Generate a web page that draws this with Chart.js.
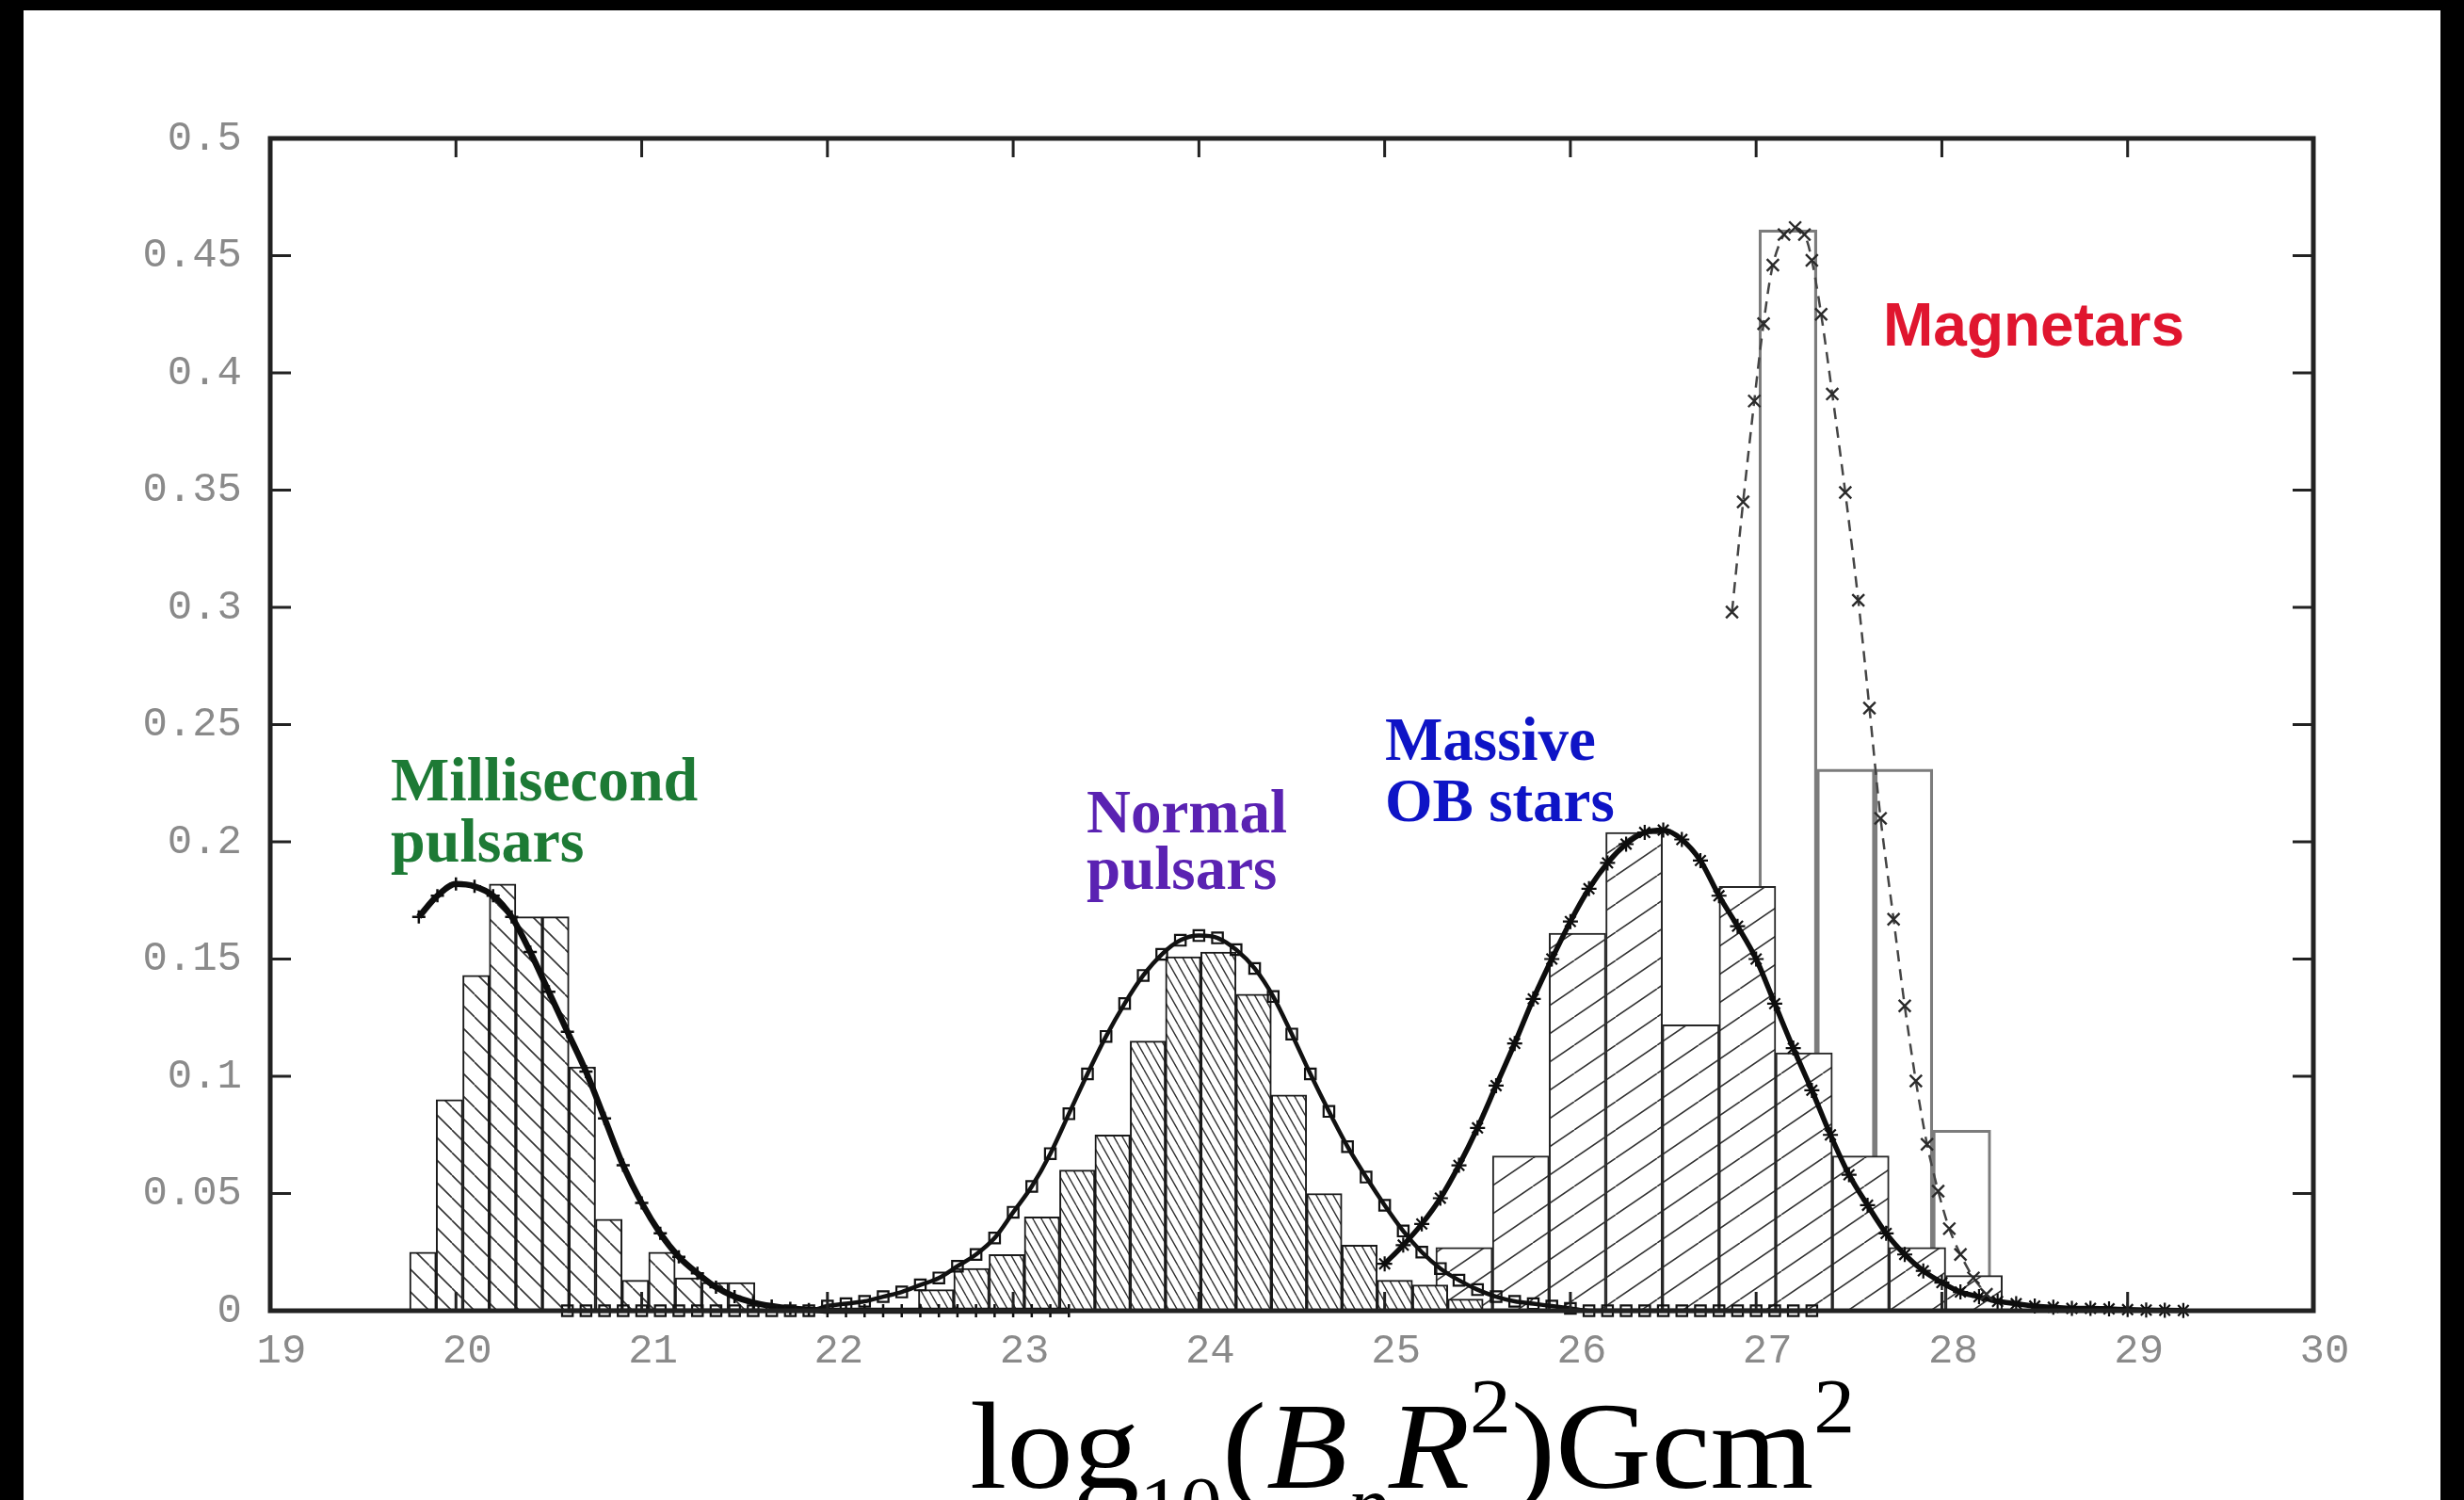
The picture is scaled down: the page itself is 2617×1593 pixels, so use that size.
<!DOCTYPE html>
<html>
<head>
<meta charset="utf-8">
<script src="https://cdn.jsdelivr.net/npm/chart.js@4.4.1/dist/chart.umd.min.js"></script>
<style>
html,body{margin:0;padding:0;background:#000;overflow:hidden}
canvas{display:block}
</style>
</head>
<body>
<canvas id="c" width="2617" height="1593" style="width:2617px;height:1593px"></canvas>
<script>
// ---------- tick labels ----------
const xTickLabels = ['19','20','21','22','23','24','25','26','27','28','29','30'];
const yTickLabels = ['0','0.05','0.1','0.15','0.2','0.25','0.3','0.35','0.4','0.45','0.5'];

// ---------- histograms (bin centres / heights) ----------
const mspBinCenters = [19.822,19.965,20.108,20.251,20.394,20.537,20.680,20.823,20.966,21.109,21.252,21.395,21.538];
const mspBinHeights = [0.025,0.090,0.143,0.182,0.168,0.168,0.104,0.039,0.013,0.025,0.014,0.012,0.012];

const normBinCenters = [22.585,22.775,22.965,23.155,23.345,23.535,23.725,23.915,24.105,24.295,24.485,24.675,24.865,25.055,25.245,25.435];
const normBinHeights = [0.009,0.018,0.024,0.040,0.060,0.075,0.115,0.151,0.153,0.135,0.092,0.050,0.028,0.013,0.011,0.005];

const obBinCenters = [25.428,25.733,26.038,26.343,26.648,26.953,27.258,27.563,27.868,28.173];
const obBinHeights = [0.027,0.066,0.161,0.204,0.122,0.181,0.110,0.066,0.027,0.015];

const magBinCenters = [27.171,27.483,27.795,28.107];
const magBinHeights = [0.461,0.231,0.231,0.077];

// ---------- fitted curves ----------
const mspCurveX = [19.8,19.9,20.0,20.1,20.2,20.3,20.4,20.5,20.6,20.7,20.8,20.9,21.0,21.1,21.2,21.3,21.4,21.5,21.6,21.7,21.8,21.9,
                   22.0,22.1,22.2,22.3,22.4,22.5,22.6,22.7,22.8,22.9,23.0,23.1,23.2,23.3];
const mspCurveY = [0.168,0.177,0.182,0.181,0.177,0.168,0.153,0.136,0.119,0.102,0.082,0.062,0.046,0.033,0.023,0.016,0.010,0.006,0.0035,0.002,0.001,0.0005,
                   0,0,0,0,0,0,0,0,0,0,0,0,0,0];

const normCurveX = [20.6,20.7,20.8,20.9,21.0,21.1,21.2,21.3,21.4,21.5,21.6,21.7,21.8,21.9,
                    22.0,22.1,22.2,22.3,22.4,22.5,22.6,22.7,22.8,22.9,23.0,23.1,23.2,23.3,23.4,23.5,23.6,23.7,23.8,23.9,
                    24.0,24.1,24.2,24.3,24.4,24.5,24.6,24.7,24.8,24.9,25.0,25.1,25.2,25.3,25.4,25.5,25.6,25.7,25.8,25.9,26.0,
                    26.1,26.2,26.3,26.4,26.5,26.6,26.7,26.8,26.9,27.0,27.1,27.2,27.3];
const normCurveY = [0,0,0,0,0,0,0,0,0,0,0,0,0,0,
                    0.002,0.003,0.004,0.006,0.008,0.011,0.014,0.019,0.024,0.031,0.042,0.053,0.067,0.084,0.101,0.117,0.131,0.143,0.152,0.158,
                    0.160,0.159,0.154,0.146,0.134,0.118,0.101,0.085,0.070,0.057,0.045,0.034,0.025,0.018,0.013,0.009,0.006,0.004,0.003,0.002,0.001,
                    0,0,0,0,0,0,0,0,0,0,0,0,0];

const obCurveX = [25.0,25.1,25.2,25.3,25.4,25.5,25.6,25.7,25.8,25.9,26.0,26.1,26.2,26.3,26.4,26.5,26.6,26.7,26.8,26.9,
                  27.0,27.1,27.2,27.3,27.4,27.5,27.6,27.7,27.8,27.9,28.0,28.1,28.2,28.3,28.4,28.5,28.6,28.7,28.8,28.9,29.0,29.1,29.2,29.3];
const obCurveY = [0.020,0.028,0.037,0.048,0.062,0.078,0.096,0.114,0.133,0.150,0.166,0.180,0.191,0.199,0.204,0.205,0.201,0.192,0.177,0.164,
                  0.150,0.131,0.112,0.094,0.075,0.058,0.045,0.033,0.024,0.017,0.012,0.008,0.006,0.004,0.003,0.002,0.0015,0.001,0.001,0.0008,0.0005,0.0003,0.0002,0.0001];

const magCurveX = [26.87,26.93,26.99,27.04,27.09,27.15,27.21,27.26,27.30,27.35,27.41,27.48,27.55,27.61,27.67,27.74,27.80,27.86,27.92,27.98,28.04,28.10,28.17,28.24];
const magCurveY = [0.298,0.345,0.388,0.421,0.446,0.459,0.462,0.459,0.448,0.425,0.391,0.349,0.303,0.257,0.210,0.167,0.130,0.098,0.071,0.051,0.035,0.024,0.014,0.007];

// ---------- annotation texts ----------
const mspLabel = ['Millisecond','pulsars'];
const normLabel = ['Normal','pulsars'];
const obLabel = ['Massive','OB stars'];
const magLabel = ['Magnetars'];

// ---------- helpers ----------
const canvas = document.getElementById('c');
const mainCtx = canvas.getContext('2d');

function hatch(w, h, dir, color, lw) {
  const c = document.createElement('canvas');
  c.width = w; c.height = h;
  const g = c.getContext('2d');
  g.fillStyle = '#ffffff';
  g.fillRect(0, 0, w, h);
  g.strokeStyle = color;
  g.lineWidth = lw;
  g.beginPath();
  for (const o of [-1, 0, 1]) {
    if (dir === '/') { g.moveTo(o * w, h); g.lineTo(o * w + w, 0); }
    else { g.moveTo(o * w, 0); g.lineTo(o * w + w, h); }
  }
  g.stroke();
  return mainCtx.createPattern(c, 'repeat');
}

const mspPattern = hatch(24, 24, '\\', '#333', 1.6);
const normPattern = hatch(9, 16, '\\', '#333', 1.4);
const obPattern = hatch(44, 30, '/', '#333', 1.6);

const pts = (xs, ys) => xs.map((x, i) => ({x: x, y: ys[i]}));

const hiddenX = () => ({
  type: 'linear', min: 19, max: 30, display: false, offset: false,
  ticks: {stepSize: 1}, grid: {display: false}
});

const tickFont = {family: '"Liberation Mono", "DejaVu Sans Mono", monospace', size: 44};

const decor = {
  id: 'decor',
  beforeDraw(chart) {
    const ctx = chart.ctx;
    ctx.save();
    ctx.fillStyle = '#000';
    ctx.fillRect(0, 0, chart.width, chart.height);
    ctx.fillStyle = '#ffffff';
    ctx.fillRect(25, 11, 2567, 1582);
    ctx.restore();
  },
  afterDatasetsDraw(chart) {
    const ctx = chart.ctx, a = chart.chartArea, xs = chart.scales.x, ys = chart.scales.y;
    ctx.save();
    ctx.strokeStyle = '#222';
    ctx.lineWidth = 3;
    ctx.beginPath();
    xs.ticks.forEach(t => {
      if (t.value <= xs.min || t.value >= xs.max) return;
      const p = xs.getPixelForValue(t.value);
      ctx.moveTo(p, a.bottom); ctx.lineTo(p, a.bottom - 20);
      ctx.moveTo(p, a.top); ctx.lineTo(p, a.top + 20);
    });
    ys.ticks.forEach(t => {
      if (t.value <= ys.min + 1e-9 || t.value >= ys.max - 1e-9) return;
      const p = ys.getPixelForValue(t.value);
      ctx.moveTo(a.left, p); ctx.lineTo(a.left + 22, p);
      ctx.moveTo(a.right, p); ctx.lineTo(a.right - 22, p);
    });
    ctx.stroke();
    ctx.lineWidth = 5;
    ctx.strokeRect(a.left, a.top, a.right - a.left, a.bottom - a.top);
    ctx.restore();
  },
  afterDraw(chart) {
    const ctx = chart.ctx;
    ctx.save();
    ctx.textBaseline = 'alphabetic';
    ctx.textAlign = 'left';
    ctx.font = 'bold 66px "Liberation Serif", "Times New Roman", serif';
    ctx.fillStyle = '#1d7a35';
    ctx.fillText(mspLabel[0], 415, 850);
    ctx.fillText(mspLabel[1], 415, 915);
    ctx.font = 'bold 65px "Liberation Serif", "Times New Roman", serif';
    ctx.fillStyle = '#5a22b2';
    ctx.fillText(normLabel[0], 1154, 884);
    ctx.fillText(normLabel[1], 1154, 944);
    ctx.fillStyle = '#0e14c6';
    ctx.fillText(obLabel[0], 1471, 807);
    ctx.fillText(obLabel[1], 1471, 872);
    ctx.font = 'bold 64px "Liberation Sans", Arial, sans-serif';
    ctx.fillStyle = '#e0162f';
    ctx.fillText(magLabel[0], 2000, 367);

    // axis title: log10(BpR^2)Gcm^2
    const size = 132;
    const fam = '"Liberation Serif", "Times New Roman", serif';
    const segs = [
      {t: 'log', s: 1, dy: 0, it: false},
      {t: '10', s: 0.62, dy: 0.34, it: false},
      {t: '(', s: 1, dy: 0, it: false},
      {t: 'B', s: 1, dy: 0, it: true},
      {t: 'p', s: 0.62, dy: 0.34, it: true},
      {t: 'R', s: 1, dy: 0, it: true},
      {t: '2', s: 0.62, dy: -0.45, it: false},
      {t: ')', s: 1, dy: 0, it: false},
      {t: 'Gcm', s: 1, dy: 0, it: false},
      {t: '2', s: 0.62, dy: -0.45, it: false}
    ];
    let total = 0;
    segs.forEach(sg => {
      ctx.font = (sg.it ? 'italic ' : '') + Math.round(size * sg.s) + 'px ' + fam;
      sg.w = ctx.measureText(sg.t).width;
      total += sg.w;
    });
    const sx = 940 / total;
    ctx.translate(1030, 1580);
    ctx.scale(sx, 1);
    ctx.fillStyle = '#000';
    let cx = 0;
    segs.forEach(sg => {
      ctx.font = (sg.it ? 'italic ' : '') + Math.round(size * sg.s) + 'px ' + fam;
      ctx.fillText(sg.t, cx, sg.dy * size);
      cx += sg.w;
    });
    ctx.restore();
  }
};

new Chart(canvas, {
  type: 'line',
  data: {
    datasets: [
      {
        type: 'line', label: 'Magnetar fit', data: pts(magCurveX, magCurveY), xAxisID: 'x', yAxisID: 'y',
        order: 1, borderColor: '#444', borderWidth: 2.5, borderDash: [12, 8], fill: false, tension: 0.3,
        pointStyle: 'crossRot', pointRadius: 9, pointBorderColor: '#2a2a2a', pointBorderWidth: 2.4, clip: false
      },
      {
        type: 'line', label: 'OB fit', data: pts(obCurveX, obCurveY), xAxisID: 'x', yAxisID: 'y',
        order: 2, borderColor: '#0d0d0d', borderWidth: 5.5, fill: false, cubicInterpolationMode: 'monotone',
        pointStyle: 'star', pointRadius: 8, pointBorderColor: '#0d0d0d', pointBorderWidth: 2.2, clip: false
      },
      {
        type: 'line', label: 'Normal fit', data: pts(normCurveX, normCurveY), xAxisID: 'x', yAxisID: 'y',
        order: 3, borderColor: '#111', borderWidth: 4.5, fill: false, cubicInterpolationMode: 'monotone',
        pointStyle: 'rect', pointRadius: 8, pointBackgroundColor: 'rgba(0,0,0,0)', pointBorderColor: '#111', pointBorderWidth: 2.2, clip: false
      },
      {
        type: 'line', label: 'MSP fit', data: pts(mspCurveX, mspCurveY), xAxisID: 'x', yAxisID: 'y',
        order: 4, borderColor: '#0d0d0d', borderWidth: 6.5, fill: false, cubicInterpolationMode: 'monotone',
        pointStyle: 'cross', pointRadius: 7, pointBorderColor: '#0d0d0d', pointBorderWidth: 2.5, clip: false
      },
      {
        type: 'bar', label: 'MSP', data: pts(mspBinCenters, mspBinHeights), xAxisID: 'xMsp', yAxisID: 'y',
        order: 5, backgroundColor: mspPattern, borderColor: '#1a1a1a', borderWidth: 2, borderSkipped: false,
        barPercentage: 1, categoryPercentage: 1, grouped: false
      },
      {
        type: 'bar', label: 'Normal', data: pts(normBinCenters, normBinHeights), xAxisID: 'xNorm', yAxisID: 'y',
        order: 6, backgroundColor: normPattern, borderColor: '#1a1a1a', borderWidth: 2, borderSkipped: false,
        barPercentage: 1, categoryPercentage: 1, grouped: false
      },
      {
        type: 'bar', label: 'OB', data: pts(obBinCenters, obBinHeights), xAxisID: 'xOb', yAxisID: 'y',
        order: 7, backgroundColor: obPattern, borderColor: '#262626', borderWidth: 2, borderSkipped: false,
        barPercentage: 1, categoryPercentage: 1, grouped: false
      },
      {
        type: 'bar', label: 'Magnetars', data: pts(magBinCenters, magBinHeights), xAxisID: 'xMag', yAxisID: 'y',
        order: 8, backgroundColor: 'rgba(255,255,255,0)', borderColor: '#7c7c7c', borderWidth: 2.5, borderSkipped: false,
        barPercentage: 1, categoryPercentage: 1, grouped: false
      }
    ]
  },
  options: {
    responsive: false,
    animation: false,
    devicePixelRatio: 1,
    events: [],
    layout: {padding: {left: 0, top: 147, right: 160, bottom: 0}},
    plugins: {legend: {display: false}, tooltip: {enabled: false}, title: {display: false}},
    scales: {
      x: {
        type: 'linear', position: 'bottom', min: 19, max: 30, offset: false,
        grid: {display: false, drawTicks: false}, border: {display: false},
        ticks: {stepSize: 1, autoSkip: false, maxRotation: 0, padding: 17, labelOffset: 12,
                font: tickFont, color: '#8a8a8a', callback: (v, i) => xTickLabels[i]},
        afterFit: s => { s.height = 201; }
      },
      y: {
        type: 'linear', position: 'left', min: 0, max: 0.5,
        grid: {display: false, drawTicks: false}, border: {display: false},
        ticks: {stepSize: 0.05, autoSkip: false, padding: 30, font: tickFont, color: '#8a8a8a',
                callback: (v, i) => yTickLabels[i]},
        afterFit: s => { s.width = 287; }
      },
      xMsp: hiddenX(), xNorm: hiddenX(), xOb: hiddenX(), xMag: hiddenX()
    }
  },
  plugins: [decor]
});
</script>
</body>
</html>
